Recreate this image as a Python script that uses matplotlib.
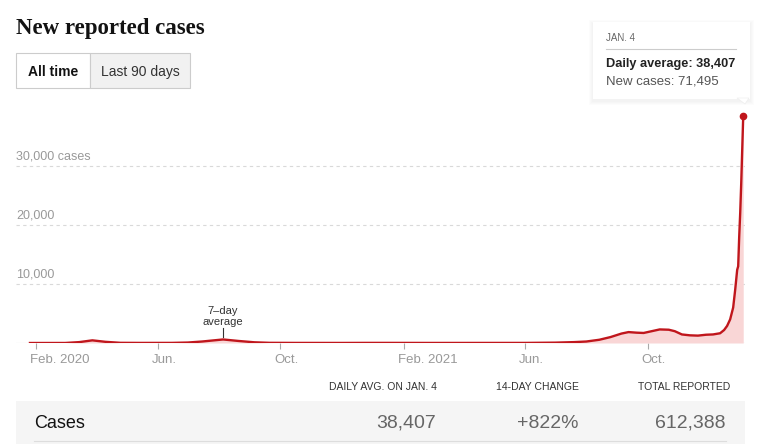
import numpy as np
import matplotlib
matplotlib.use("Agg")
import matplotlib.pyplot as plt
import matplotlib.dates as mdates
from matplotlib.patches import Rectangle, Polygon
from matplotlib.transforms import ScaledTranslation

plt.rcParams["font.family"] = ["Liberation Sans", "DejaVu Sans"]

# 7-day average of new reported cases
dates = np.array([
    "2020-01-26", "2020-03-01", "2020-03-15", "2020-03-28", "2020-04-10",
    "2020-04-25", "2020-05-15", "2020-06-15", "2020-07-01", "2020-07-15",
    "2020-08-05", "2020-08-20", "2020-09-05", "2020-09-20", "2020-10-15",
    "2020-12-01", "2020-12-25", "2021-01-15", "2021-03-01", "2021-06-01",
    "2021-07-01", "2021-07-20", "2021-08-01", "2021-08-14", "2021-08-25",
    "2021-09-05", "2021-09-12", "2021-09-20", "2021-09-27", "2021-10-05",
    "2021-10-13", "2021-10-22", "2021-10-28", "2021-11-04", "2021-11-12",
    "2021-11-20", "2021-11-28", "2021-12-05", "2021-12-12", "2021-12-16",
    "2021-12-19", "2021-12-22", "2021-12-25", "2021-12-27", "2021-12-29",
    "2021-12-30", "2021-12-31", "2022-01-01", "2022-01-02", "2022-01-03",
    "2022-01-04",
], dtype="datetime64[D]")
avg_cases = np.array([
    0, 5, 150, 450, 200,
    30, 15, 20, 80, 250,
    600, 350, 120, 30, 15,
    10, 20, 20, 10, 15,
    60, 150, 250, 550, 1000,
    1600, 1850, 1750, 1700, 2000,
    2300, 2250, 2000, 1450, 1300,
    1250, 1400, 1450, 1650, 2200,
    2900, 4000, 6000, 9000, 12400,
    13000, 18000, 22000, 27000, 32700,
    38407,
])

grid_vals = [10000, 20000, 30000]
grid_labels = ["10,000", "20,000", "30,000 cases"]
tick_dates = np.array(["2020-02-01", "2020-06-01", "2020-10-01",
                       "2021-02-01", "2021-06-01", "2021-10-01"], dtype="datetime64[D]")
tick_labels = ["Feb. 2020", "Jun.", "Oct.", "Feb. 2021", "Jun.", "Oct."]

tip_date = "JAN. 4"
tip_avg = "Daily average: 38,407"
tip_new = "New cases: 71,495"
table_heads = ["DAILY AVG. ON JAN. 4", "14-DAY CHANGE", "TOTAL REPORTED"]
table_vals = ["38,407", "+822%", "612,388"]

W, H = 764, 444
RED = "#c0161c"


def fx(x):
    return x / W


def fy(y):
    return 1 - y / H


def box(x0, y0, x1, y1, **kw):
    # rectangle given in pixel corners (top-left, bottom-right)
    r = Rectangle((fx(x0), fy(y1)), (x1 - x0) / W, (y1 - y0) / H,
                  transform=fig.transFigure, **kw)
    fig.add_artist(r)
    return r


fig = plt.figure(figsize=(W / 100, H / 100), dpi=100)
fig.patch.set_facecolor("white")

# title
fig.text(fx(16), fy(34), "New reported cases", family="Liberation Serif",
         weight="bold", size=16.5, color="#121212", va="baseline")

# toggle buttons
box(16, 53, 90, 88, facecolor="white", edgecolor="#cccccc", lw=0.8)
box(90, 53, 190, 88, facecolor="#f1f1f1", edgecolor="#cccccc", lw=0.8)
fig.text(fx(53), fy(72), "All time", ha="center", va="center", size=10,
         weight="bold", color="#121212")
fig.text(fx(140), fy(72), "Last 90 days", ha="center", va="center", size=10,
         color="#333333")

# chart
ax = fig.add_axes([fx(16), fy(343), (745 - 16) / W, (343 - 110) / H])
feb1 = mdates.date2num(np.datetime64("2020-02-01"))
ax.set_xlim(feb1 - 20 / 1.006, feb1 + (745 - 36) / 1.006)
ax.set_ylim(0, (343 - 110) / 0.0059)
for s in ax.spines.values():
    s.set_visible(False)
ax.set_facecolor("none")

ax.set_yticks(grid_vals)
ax.yaxis.grid(True, color="#d9d9d9", lw=0.8, ls=(0, (3, 3)))
ax.tick_params(axis="y", length=0, labelleft=False)
for v, lab in zip(grid_vals, grid_labels):
    ax.annotate(lab, xy=(0, v), xycoords=("axes fraction", "data"),
                xytext=(0, 2.5), textcoords="offset points", va="bottom",
                ha="left", size=9, color="#999999")
ax.axhline(0, color="#cccccc", lw=0.8, zorder=1)

ax.fill_between(dates, avg_cases, color="#f9d6d6", lw=0, zorder=2)
ax.plot(dates, avg_cases, color=RED, lw=1.7, zorder=3, solid_joinstyle="round")
ax.plot(dates[-1:], avg_cases[-1:], "o", color=RED, ms=4.5, zorder=4, clip_on=False)

ax.set_xticks(tick_dates)
ax.set_xticklabels(tick_labels)
ax.tick_params(axis="x", length=4, width=0.8, color="#aaaaaa", labelcolor="#999999",
               labelsize=9.5, pad=4)
shift = ScaledTranslation(-6 / 100, 0, fig.dpi_scale_trans)
for lbl in ax.get_xticklabels():
    lbl.set_ha("left")
    lbl.set_transform(lbl.get_transform() + shift)

# "7-day average" note
fig.text(fx(223), fy(311), "7\u2013day", ha="center", va="center", size=8, color="#333333")
fig.text(fx(223), fy(322), "average", ha="center", va="center", size=8, color="#333333")
fig.add_artist(plt.Line2D([fx(223), fx(223)], [fy(328), fy(337)], color="#333333",
                          lw=0.8, transform=fig.transFigure))

# tooltip with a faint shadow
for k in range(4, 0, -1):
    box(593 - k, 22 - k + 2, 750 + k, 99 + k + 2, facecolor="black",
        edgecolor="none", alpha=0.01, zorder=5)
box(593, 22, 750, 99, facecolor="white", edgecolor="none", zorder=5)
fig.add_artist(Polygon([(fx(737), fy(98)), (fx(749), fy(98)), (fx(745), fy(104))],
                       closed=True, transform=fig.transFigure, facecolor="white",
                       edgecolor="#eeeeee", lw=0.5, zorder=5))
fig.text(fx(606), fy(38), tip_date, size=7, color="#666666", va="center", zorder=6)
fig.add_artist(plt.Line2D([fx(606), fx(736)], [fy(49), fy(49)], color="#cccccc",
                          lw=0.8, transform=fig.transFigure, zorder=6))
fig.text(fx(606), fy(64), tip_avg, size=9.2, weight="bold", color="#222222",
         va="center", zorder=6)
fig.text(fx(606), fy(81), tip_new, size=9.5, color="#555555", va="center", zorder=6)

# summary table
fig.text(fx(437), fy(387), table_heads[0], ha="right", va="center", size=7.5, color="#333333")
fig.text(fx(579), fy(387), table_heads[1], ha="right", va="center", size=7.5, color="#333333")
fig.text(fx(730), fy(387), table_heads[2], ha="right", va="center", size=7.5, color="#333333")
box(16, 401, 745, 444, facecolor="#f5f5f5", edgecolor="none")
fig.add_artist(plt.Line2D([fx(34), fx(726)], [fy(441), fy(441)], color="#dddddd",
                          lw=0.8, transform=fig.transFigure))
fig.text(fx(34), fy(423), "Cases", va="center", size=13, color="#121212")
fig.text(fx(436), fy(423), table_vals[0], ha="right", va="center", size=14, color="#666666")
fig.text(fx(579), fy(423), table_vals[1], ha="right", va="center", size=14, color="#666666")
fig.text(fx(726), fy(423), table_vals[2], ha="right", va="center", size=14, color="#666666")

fig.savefig("out.png", dpi=100)
